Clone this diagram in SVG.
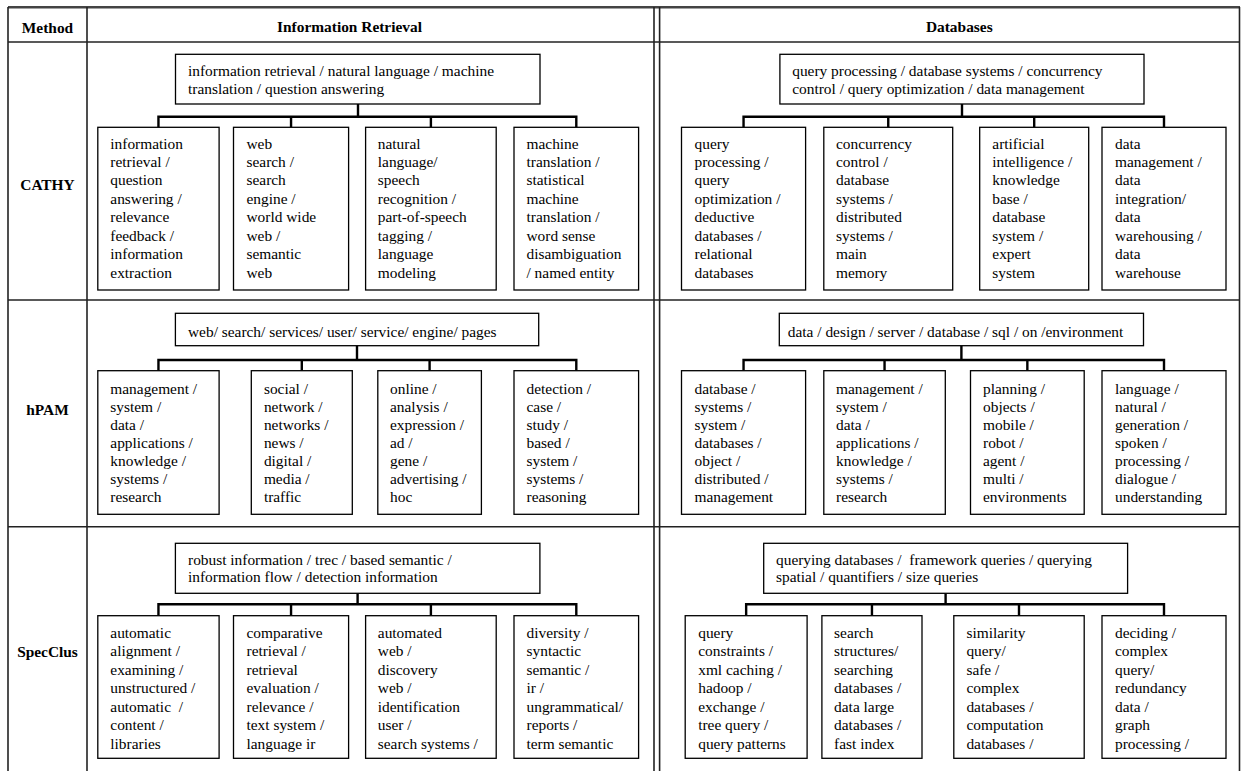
<svg xmlns="http://www.w3.org/2000/svg" width="1241" height="771" viewBox="0 0 1241 771">
<style>
.bg{fill:#fff}
.grid{stroke:#222;stroke-width:1.6;fill:none}
.gridtop{stroke:#444;stroke-width:2.6;fill:none}
.box{fill:#fff;stroke:#000;stroke-width:1.3}
.conn{fill:none;stroke:#000;stroke-width:2.4;stroke-linejoin:miter}
text{font-family:"Liberation Serif","Times New Roman",serif;font-size:15.4px;fill:#000}
.hd{font-weight:bold;text-anchor:middle}
.pre{white-space:pre}
</style>
<rect class="bg" x="0" y="0" width="1241" height="771"/>
<g id="table">
<line class="gridtop" x1="8" y1="7.3" x2="1240" y2="7.3"/>
<line class="grid" x1="8" y1="42" x2="1240" y2="42"/>
<line class="grid" x1="8" y1="300" x2="1240" y2="300"/>
<line class="grid" x1="8" y1="526.7" x2="1240" y2="526.7"/>
<line class="grid" x1="8" y1="7" x2="8" y2="771"/>
<line class="grid" x1="87" y1="7" x2="87" y2="771"/>
<line class="grid" x1="654" y1="7" x2="654" y2="771"/>
<line class="grid" x1="659.6" y1="7" x2="659.6" y2="771"/>
<line class="grid" x1="1239.5" y1="7" x2="1239.5" y2="771"/>
</g>
<g id="headers">
<text class="hd" x="47.5" y="33">Method</text>
<text class="hd" x="349.5" y="32">Information Retrieval</text>
<text class="hd" x="959.3" y="32">Databases</text>
<text class="hd" x="47.5" y="190">CATHY</text>
<text class="hd" x="47.5" y="415">hPAM</text>
<text class="hd" x="47.5" y="656.5">SpecClus</text>
</g>
<g id="connectors">
<path class="conn" d="M358 104V116.7M158.45 127.3V116.7H576.3V127.3M291.05 116.7V127.3M430.9 116.7V127.3"/>
<path class="conn" d="M962 104V116.7M743.55 127.3V116.7H1164V127.3M888.25 116.7V127.3M1034.2 116.7V127.3"/>
<path class="conn" d="M357 345.7V360M158.45 370.7V360H576.3V370.7M301.8 360V370.7M429.6 360V370.7"/>
<path class="conn" d="M961.4 345.7V360M743.55 370.7V360H1164V370.7M884.55 360V370.7M1027.35 360V370.7"/>
<path class="conn" d="M357.6 593.3V604.3M158.45 615.7V604.3H576.3V615.7M291.05 604.3V615.7M430.9 604.3V615.7"/>
<path class="conn" d="M945.6 593.3V604.3M746.15 615.7V604.3H1164V615.7M871.95 604.3V615.7M1019 604.3V615.7"/>
</g>
<g id="cathy-ir-root"><rect class="box" x="175.5" y="54.3" width="364.5" height="49.7"/>
<text x="188" y="75.5">information retrieval / natural language / machine<tspan x="188" dy="18.5">translation / question answering</tspan></text></g>
<g id="cathy-ir-1"><rect class="box" x="97.8" y="127.3" width="121.3" height="162.7"/>
<text x="110.3" y="148.5">information<tspan x="110.3" dy="18.43">retrieval /</tspan><tspan x="110.3" dy="18.43">question</tspan><tspan x="110.3" dy="18.43">answering /</tspan><tspan x="110.3" dy="18.43">relevance</tspan><tspan x="110.3" dy="18.43">feedback /</tspan><tspan x="110.3" dy="18.43">information</tspan><tspan x="110.3" dy="18.43">extraction</tspan></text></g>
<g id="cathy-ir-2"><rect class="box" x="233.5" y="127.3" width="115.1" height="162.7"/>
<text x="246.5" y="148.5">web<tspan x="246.5" dy="18.43">search /</tspan><tspan x="246.5" dy="18.43">search</tspan><tspan x="246.5" dy="18.43">engine /</tspan><tspan x="246.5" dy="18.43">world wide</tspan><tspan x="246.5" dy="18.43">web /</tspan><tspan x="246.5" dy="18.43">semantic</tspan><tspan x="246.5" dy="18.43">web</tspan></text></g>
<g id="cathy-ir-3"><rect class="box" x="365.6" y="127.3" width="130.6" height="162.7"/>
<text x="377.8" y="148.5">natural<tspan x="377.8" dy="18.43">language/</tspan><tspan x="377.8" dy="18.43">speech</tspan><tspan x="377.8" dy="18.43">recognition /</tspan><tspan x="377.8" dy="18.43">part-of-speech</tspan><tspan x="377.8" dy="18.43">tagging /</tspan><tspan x="377.8" dy="18.43">language</tspan><tspan x="377.8" dy="18.43">modeling</tspan></text></g>
<g id="cathy-ir-4"><rect class="box" x="514" y="127.3" width="124.6" height="162.7"/>
<text x="526.5" y="148.5">machine<tspan x="526.5" dy="18.43">translation /</tspan><tspan x="526.5" dy="18.43">statistical</tspan><tspan x="526.5" dy="18.43">machine</tspan><tspan x="526.5" dy="18.43">translation /</tspan><tspan x="526.5" dy="18.43">word sense</tspan><tspan x="526.5" dy="18.43">disambiguation</tspan><tspan x="526.5" dy="18.43">/ named entity</tspan></text></g>
<g id="cathy-db-root"><rect class="box" x="779.9" y="54.3" width="364.1" height="49.7"/>
<text x="792.2" y="75.5">query processing / database systems / concurrency<tspan x="792.2" dy="18.5">control / query optimization / data management</tspan></text></g>
<g id="cathy-db-1"><rect class="box" x="681.5" y="127.3" width="124.1" height="162.7"/>
<text x="694.5" y="148.5">query<tspan x="694.5" dy="18.43">processing /</tspan><tspan x="694.5" dy="18.43">query</tspan><tspan x="694.5" dy="18.43">optimization /</tspan><tspan x="694.5" dy="18.43">deductive</tspan><tspan x="694.5" dy="18.43">databases /</tspan><tspan x="694.5" dy="18.43">relational</tspan><tspan x="694.5" dy="18.43">databases</tspan></text></g>
<g id="cathy-db-2"><rect class="box" x="823.8" y="127.3" width="128.9" height="162.7"/>
<text x="836" y="148.5">concurrency<tspan x="836" dy="18.43">control /</tspan><tspan x="836" dy="18.43">database</tspan><tspan x="836" dy="18.43">systems /</tspan><tspan x="836" dy="18.43">distributed</tspan><tspan x="836" dy="18.43">systems /</tspan><tspan x="836" dy="18.43">main</tspan><tspan x="836" dy="18.43">memory</tspan></text></g>
<g id="cathy-db-3"><rect class="box" x="979.7" y="127.3" width="109" height="162.7"/>
<text x="992.3" y="148.5">artificial<tspan x="992.3" dy="18.43">intelligence /</tspan><tspan x="992.3" dy="18.43">knowledge</tspan><tspan x="992.3" dy="18.43">base /</tspan><tspan x="992.3" dy="18.43">database</tspan><tspan x="992.3" dy="18.43">system /</tspan><tspan x="992.3" dy="18.43">expert</tspan><tspan x="992.3" dy="18.43">system</tspan></text></g>
<g id="cathy-db-4"><rect class="box" x="1102" y="127.3" width="124" height="162.7"/>
<text x="1115" y="148.5">data<tspan x="1115" dy="18.43">management /</tspan><tspan x="1115" dy="18.43">data</tspan><tspan x="1115" dy="18.43">integration/</tspan><tspan x="1115" dy="18.43">data</tspan><tspan x="1115" dy="18.43">warehousing /</tspan><tspan x="1115" dy="18.43">data</tspan><tspan x="1115" dy="18.43">warehouse</tspan></text></g>
<g id="hpam-ir-root"><rect class="box" x="175.4" y="313.3" width="363.3" height="32.4"/>
<text x="188" y="336.5">web/ search/ services/ user/ service/ engine/ pages</text></g>
<g id="hpam-ir-1"><rect class="box" x="97.8" y="370.7" width="121.3" height="143.6"/>
<text x="110.3" y="393.5">management /<tspan x="110.3" dy="18.1">system /</tspan><tspan x="110.3" dy="18.1">data /</tspan><tspan x="110.3" dy="18.1">applications /</tspan><tspan x="110.3" dy="18.1">knowledge /</tspan><tspan x="110.3" dy="18.1">systems /</tspan><tspan x="110.3" dy="18.1">research</tspan></text></g>
<g id="hpam-ir-2"><rect class="box" x="251.3" y="370.7" width="101" height="143.6"/>
<text x="263.9" y="393.5">social /<tspan x="263.9" dy="18.1">network /</tspan><tspan x="263.9" dy="18.1">networks /</tspan><tspan x="263.9" dy="18.1">news /</tspan><tspan x="263.9" dy="18.1">digital /</tspan><tspan x="263.9" dy="18.1">media /</tspan><tspan x="263.9" dy="18.1">traffic</tspan></text></g>
<g id="hpam-ir-3"><rect class="box" x="377.8" y="370.7" width="103.6" height="143.6"/>
<text x="390" y="393.5">online /<tspan x="390" dy="18.1">analysis /</tspan><tspan x="390" dy="18.1">expression /</tspan><tspan x="390" dy="18.1">ad /</tspan><tspan x="390" dy="18.1">gene /</tspan><tspan x="390" dy="18.1">advertising /</tspan><tspan x="390" dy="18.1">hoc</tspan></text></g>
<g id="hpam-ir-4"><rect class="box" x="514" y="370.7" width="124.6" height="143.6"/>
<text x="526.5" y="393.5">detection /<tspan x="526.5" dy="18.1">case /</tspan><tspan x="526.5" dy="18.1">study /</tspan><tspan x="526.5" dy="18.1">based /</tspan><tspan x="526.5" dy="18.1">system /</tspan><tspan x="526.5" dy="18.1">systems /</tspan><tspan x="526.5" dy="18.1">reasoning</tspan></text></g>
<g id="hpam-db-root"><rect class="box" x="779.3" y="313.3" width="364.2" height="32.4"/>
<text x="787.8" y="336.5">data / design / server / database / sql / on /environment</text></g>
<g id="hpam-db-1"><rect class="box" x="681.5" y="370.7" width="124.1" height="143.6"/>
<text x="694.5" y="393.5">database /<tspan x="694.5" dy="18.1">systems /</tspan><tspan x="694.5" dy="18.1">system /</tspan><tspan x="694.5" dy="18.1">databases /</tspan><tspan x="694.5" dy="18.1">object /</tspan><tspan x="694.5" dy="18.1">distributed /</tspan><tspan x="694.5" dy="18.1">management</tspan></text></g>
<g id="hpam-db-2"><rect class="box" x="823.8" y="370.7" width="121.5" height="143.6"/>
<text x="836" y="393.5">management /<tspan x="836" dy="18.1">system /</tspan><tspan x="836" dy="18.1">data /</tspan><tspan x="836" dy="18.1">applications /</tspan><tspan x="836" dy="18.1">knowledge /</tspan><tspan x="836" dy="18.1">systems /</tspan><tspan x="836" dy="18.1">research</tspan></text></g>
<g id="hpam-db-3"><rect class="box" x="970.5" y="370.7" width="113.7" height="143.6"/>
<text x="983" y="393.5">planning /<tspan x="983" dy="18.1">objects /</tspan><tspan x="983" dy="18.1">mobile /</tspan><tspan x="983" dy="18.1">robot /</tspan><tspan x="983" dy="18.1">agent /</tspan><tspan x="983" dy="18.1">multi /</tspan><tspan x="983" dy="18.1">environments</tspan></text></g>
<g id="hpam-db-4"><rect class="box" x="1102" y="370.7" width="124" height="143.6"/>
<text x="1115" y="393.5">language /<tspan x="1115" dy="18.1">natural /</tspan><tspan x="1115" dy="18.1">generation /</tspan><tspan x="1115" dy="18.1">spoken /</tspan><tspan x="1115" dy="18.1">processing /</tspan><tspan x="1115" dy="18.1">dialogue /</tspan><tspan x="1115" dy="18.1">understanding</tspan></text></g>
<g id="specclus-ir-root"><rect class="box" x="175.4" y="543.3" width="364.5" height="50"/>
<text x="188" y="564.5">robust information / trec / based semantic /<tspan x="188" dy="17.5">information flow / detection information</tspan></text></g>
<g id="specclus-ir-1"><rect class="box" x="97.8" y="615.7" width="121.3" height="142.6"/>
<text class="pre" x="110.3" y="637.8">automatic<tspan x="110.3" dy="18.45">alignment /</tspan><tspan x="110.3" dy="18.45">examining /</tspan><tspan x="110.3" dy="18.45">unstructured /</tspan><tspan x="110.3" dy="18.45">automatic  /</tspan><tspan x="110.3" dy="18.45">content /</tspan><tspan x="110.3" dy="18.45">libraries</tspan></text></g>
<g id="specclus-ir-2"><rect class="box" x="233.5" y="615.7" width="115.1" height="142.6"/>
<text x="246.5" y="637.8">comparative<tspan x="246.5" dy="18.45">retrieval /</tspan><tspan x="246.5" dy="18.45">retrieval</tspan><tspan x="246.5" dy="18.45">evaluation /</tspan><tspan x="246.5" dy="18.45">relevance /</tspan><tspan x="246.5" dy="18.45">text system /</tspan><tspan x="246.5" dy="18.45">language ir</tspan></text></g>
<g id="specclus-ir-3"><rect class="box" x="365.6" y="615.7" width="130.6" height="142.6"/>
<text x="377.8" y="637.8">automated<tspan x="377.8" dy="18.45">web /</tspan><tspan x="377.8" dy="18.45">discovery</tspan><tspan x="377.8" dy="18.45">web /</tspan><tspan x="377.8" dy="18.45">identification</tspan><tspan x="377.8" dy="18.45">user /</tspan><tspan x="377.8" dy="18.45">search systems /</tspan></text></g>
<g id="specclus-ir-4"><rect class="box" x="514" y="615.7" width="124.6" height="142.6"/>
<text x="526.5" y="637.8">diversity /<tspan x="526.5" dy="18.45">syntactic</tspan><tspan x="526.5" dy="18.45">semantic /</tspan><tspan x="526.5" dy="18.45">ir /</tspan><tspan x="526.5" dy="18.45">ungrammatical/</tspan><tspan x="526.5" dy="18.45">reports /</tspan><tspan x="526.5" dy="18.45">term semantic</tspan></text></g>
<g id="specclus-db-root"><rect class="box" x="763.7" y="543.3" width="363.9" height="50"/>
<text class="pre" x="776" y="564.5">querying databases /  framework queries / querying<tspan x="776" dy="17.5">spatial / quantifiers / size queries</tspan></text></g>
<g id="specclus-db-1"><rect class="box" x="685.2" y="615.7" width="121.9" height="142.6"/>
<text x="698.2" y="637.8">query<tspan x="698.2" dy="18.45">constraints /</tspan><tspan x="698.2" dy="18.45">xml caching /</tspan><tspan x="698.2" dy="18.45">hadoop /</tspan><tspan x="698.2" dy="18.45">exchange /</tspan><tspan x="698.2" dy="18.45">tree query /</tspan><tspan x="698.2" dy="18.45">query patterns</tspan></text></g>
<g id="specclus-db-2"><rect class="box" x="821.9" y="615.7" width="100.1" height="142.6"/>
<text x="834.1" y="637.8">search<tspan x="834.1" dy="18.45">structures/</tspan><tspan x="834.1" dy="18.45">searching</tspan><tspan x="834.1" dy="18.45">databases /</tspan><tspan x="834.1" dy="18.45">data large</tspan><tspan x="834.1" dy="18.45">databases /</tspan><tspan x="834.1" dy="18.45">fast index</tspan></text></g>
<g id="specclus-db-3"><rect class="box" x="953.8" y="615.7" width="130.4" height="142.6"/>
<text x="966.4" y="637.8">similarity<tspan x="966.4" dy="18.45">query/</tspan><tspan x="966.4" dy="18.45">safe /</tspan><tspan x="966.4" dy="18.45">complex</tspan><tspan x="966.4" dy="18.45">databases /</tspan><tspan x="966.4" dy="18.45">computation</tspan><tspan x="966.4" dy="18.45">databases /</tspan></text></g>
<g id="specclus-db-4"><rect class="box" x="1102" y="615.7" width="124" height="142.6"/>
<text x="1115" y="637.8">deciding /<tspan x="1115" dy="18.45">complex</tspan><tspan x="1115" dy="18.45">query/</tspan><tspan x="1115" dy="18.45">redundancy</tspan><tspan x="1115" dy="18.45">data /</tspan><tspan x="1115" dy="18.45">graph</tspan><tspan x="1115" dy="18.45">processing /</tspan></text></g>
</svg>
